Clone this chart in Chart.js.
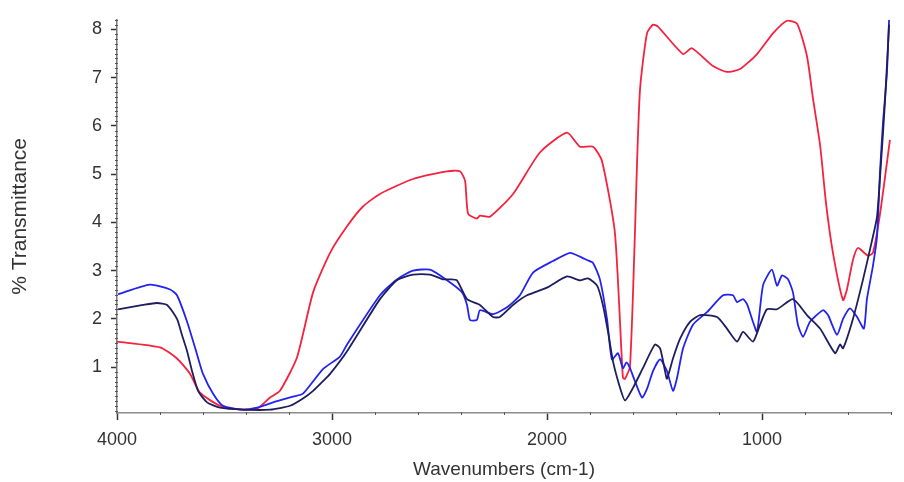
<!DOCTYPE html>
<html>
<head>
<meta charset="utf-8">
<script src="https://cdn.jsdelivr.net/npm/chart.js@4"></script>
<style>
html,body{margin:0;padding:0;background:#fff;}
#wrap{width:904px;height:482px;}
</style>
</head>
<body>
<div id="wrap"><canvas id="c" width="904" height="482"></canvas></div>
<script>
// ---- data (wavenumber cm-1, % transmittance) ----
const redWn = [4000,3800,3721,3660,3614,3521,3414,3349,3288,3242,3163,3088,3009,2930,2856,2777,2623,2465,2405,2381,2367,2326,2312,2265,2158,2033,1907,1847,1786,1744,1684,1647,1637,1614,1591,1581,1567,1535,1507,1484,1367,1326,1228,1163,1102,1023,949,884,837,791,763,730,702,670,623,605,577,554,507,484,451,405];
const redT  = [1.53,1.41,1.18,0.86,0.47,0.20,0.12,0.14,0.37,0.51,1.20,2.55,3.37,3.92,4.33,4.59,4.90,5.06,5.06,4.86,4.18,4.08,4.14,4.12,4.59,5.45,5.86,5.57,5.57,5.27,3.78,0.78,0.76,1.02,3.78,5.27,6.78,7.92,8.10,8.06,7.49,7.61,7.24,7.12,7.18,7.49,7.92,8.18,8.12,7.45,6.57,5.61,4.39,3.37,2.39,2.61,3.22,3.47,3.31,3.37,4.18,5.71];

const blueWn = [3995,3847,3753,3721,3674,3628,3600,3553,3507,3414,3349,3274,3181,3135,3042,2963,2930,2777,2698,2623,2544,2465,2395,2372,2358,2326,2312,2251,2186,2126,2065,1972,1893,1847,1814,1786,1754,1721,1698,1670,1647,1630,1614,1591,1558,1535,1507,1474,1442,1414,1395,1367,1321,1256,1181,1135,1116,1088,1070,1042,1023,995,954,930,907,879,856,833,809,777,716,693,651,623,591,558,526,512,484,465,451,437,419,409];
const blueT  = [2.51,2.71,2.61,2.49,1.94,1.27,0.86,0.45,0.20,0.12,0.16,0.27,0.39,0.45,0.96,1.22,1.47,2.49,2.82,3.00,3.02,2.80,2.55,2.29,1.98,1.98,2.18,2.10,2.24,2.49,2.96,3.20,3.37,3.29,3.22,3.16,2.82,2.00,1.16,1.29,0.98,1.10,0.98,0.71,0.37,0.55,0.92,1.16,0.92,0.51,0.78,1.39,1.88,2.14,2.49,2.49,2.35,2.41,2.31,1.94,1.73,2.70,3.02,2.69,2.90,2.82,2.55,1.88,1.63,1.94,2.18,2.08,1.67,2.00,2.22,2.04,1.80,2.41,3.10,3.71,5.06,6.08,7.10,8.20];

const navyWn = [3995,3879,3814,3767,3721,3698,3674,3651,3623,3581,3521,3414,3288,3195,3135,3088,3042,3009,2930,2777,2698,2623,2544,2484,2451,2419,2372,2312,2251,2219,2158,2093,2000,1907,1847,1809,1767,1740,1716,1693,1660,1637,1600,1554,1498,1474,1451,1442,1414,1381,1335,1288,1209,1163,1116,1088,1042,1009,977,930,856,791,730,660,637,623,577,530,488,465,447,428,409];
const navyT  = [2.20,2.29,2.33,2.29,2.00,1.67,1.33,0.92,0.51,0.27,0.16,0.12,0.12,0.20,0.35,0.51,0.71,0.86,1.33,2.41,2.80,2.92,2.92,2.82,2.82,2.80,2.41,2.29,2.04,2.04,2.29,2.49,2.65,2.88,2.80,2.84,2.69,2.29,1.73,1.12,0.57,0.31,0.57,0.98,1.47,1.39,0.92,0.76,1.18,1.59,1.94,2.08,2.04,1.80,1.53,1.73,1.53,1.88,2.20,2.20,2.41,2.08,1.80,1.29,1.47,1.39,2.00,2.82,3.63,4.12,5.20,6.50,8.10];

const xMajorTicks = [4000,3000,2000,1000];
const xMinorStep = 200;
const yMinorStep = 0.1;

const toPts = (xs, ys) => xs.map((x, i) => ({x: x, y: ys[i]}));

const FONT = "'Liberation Sans', Arial, sans-serif";

const minorTicks = {
  id: 'minorTicks',
  afterDraw(chart) {
    const {ctx, scales: {x, y}} = chart;
    ctx.save();
    ctx.strokeStyle = '#555';
    ctx.lineWidth = 1;
    ctx.beginPath();
    for (let v = x.min; v <= x.max + 1e-6; v += xMinorStep) {
      if (v % 1000 === 0) continue;
      const px = Math.round(x.getPixelForValue(v)) + 0.5;
      ctx.moveTo(px, y.bottom - 1);
      ctx.lineTo(px, y.bottom + 2);
    }
    for (let k = 1; k * yMinorStep <= y.max + 1e-6; k++) {
      const v = k * yMinorStep;
      if (Math.abs(v - Math.round(v)) < 1e-6) continue;
      const py = Math.round(y.getPixelForValue(v)) + 0.5;
      ctx.moveTo(x.left - 2, py);
      ctx.lineTo(x.left + 1, py);
    }
    ctx.stroke();
    ctx.restore();
  }
};

new Chart(document.getElementById('c'), {
  type: 'scatter',
  data: {
    datasets: [
      {label: 'navy', data: toPts(navyWn, navyT), borderColor: '#1e1e5e', showLine: true, pointRadius: 0, borderWidth: 1.8, tension: 0.2},
      {label: 'blue', data: toPts(blueWn, blueT), borderColor: '#2323f0', showLine: true, pointRadius: 0, borderWidth: 1.8, tension: 0.2},
      {label: 'red', data: toPts(redWn, redT), borderColor: '#f5223e', showLine: true, pointRadius: 0, borderWidth: 1.8, tension: 0.2}
    ]
  },
  options: {
    responsive: false,
    animation: false,
    layout: {padding: {top: 13, right: 13, left: 0, bottom: 0}},
    plugins: {legend: {display: false}, tooltip: {enabled: false}},
    scales: {
      x: {
        type: 'linear',
        reverse: true,
        min: 400,
        max: 4000,
        afterBuildTicks: (s) => { s.ticks = xMajorTicks.map(v => ({value: v})); },
        afterFit: (s) => { s.height = 69; },
        ticks: {color: '#333', font: {family: FONT, size: 18}, padding: 9, maxRotation: 0,
                callback: (v) => String(v)},
        grid: {drawOnChartArea: false, tickLength: 7, tickColor: '#333', tickWidth: 1.5},
        border: {color: '#8c8c8c', width: 1.5},
        title: {display: true, text: 'Wavenumbers (cm-1)', color: '#333', font: {family: FONT, size: 19}, padding: {top: 0, bottom: 1}}
      },
      y: {
        type: 'linear',
        min: 0.05,
        max: 8.2,
        afterBuildTicks: (s) => { const t = []; for (let v = 1; v <= 8; v++) t.push({value: v}); s.ticks = t; },
        afterFit: (s) => { s.width = 117; },
        ticks: {color: '#333', font: {family: FONT, size: 18}, padding: 9, callback: (v) => String(v)},
        grid: {drawOnChartArea: false, tickLength: 6, tickColor: '#333', tickWidth: 1.5},
        border: {color: '#777', width: 1.5},
        title: {display: true, text: '% Transmittance', color: '#333', font: {family: FONT, size: 21}, padding: {top: 8, bottom: 0}}
      }
    }
  },
  plugins: [minorTicks]
});
</script>
</body>
</html>
